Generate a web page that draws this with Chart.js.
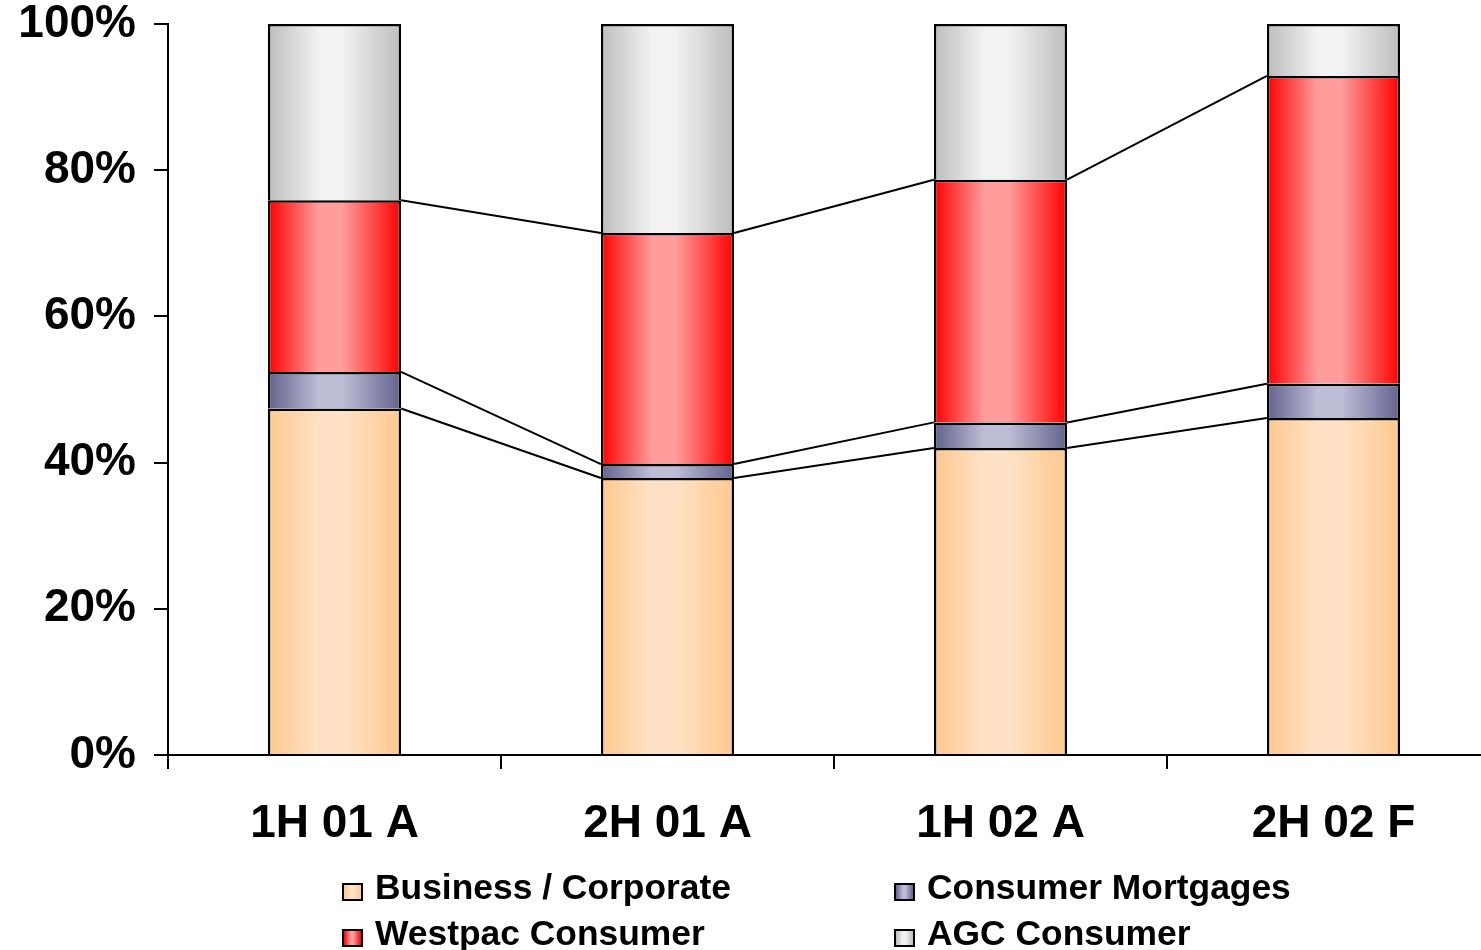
<!DOCTYPE html>
<html>
<head>
<meta charset="utf-8">
<script src="https://cdn.jsdelivr.net/npm/chart.js@4/dist/chart.umd.min.js"></script>
<style>
  html, body { margin: 0; padding: 0; background: #fff; overflow: hidden; }
  #wrap { position: relative; width: 1481px; height: 950px; overflow: hidden; }
  #chart { position: absolute; left: 0; top: 0; }
  .key {
    position: absolute;
    font: bold 35.4px "Liberation Sans", Arial, sans-serif;
    line-height: 35px;
    color: #000;
    white-space: nowrap;
  }
  .key i {
    position: absolute;
    left: -33px;
    top: 13px;
    width: 21px;
    height: 18px;
    box-sizing: border-box;
    border: 2px solid #000;
  }
</style>
</head>
<body>
<div id="wrap">
  <canvas id="chart" width="1500" height="950"></canvas>
  <div id="legend"></div>
</div>
<script>
var labels = ["1H 01 A", "2H 01 A", "1H 02 A", "2H 02 F"];
var yTicks = [0, 20, 40, 60, 80, 100];

var business = [47.4, 37.9, 42.0, 46.1];
var mortgages = [5.0, 1.9, 3.5, 4.7];
var westpac = [23.5, 31.6, 33.2, 42.1];
var agc = [24.1, 28.6, 21.3, 7.1];

// edge / centre colour for the cylinder-style fill
var shades = {
  business: ["#FFC88F", "#FFE2C6"],
  mortgages: ["#62628E", "#BDBDD6"],
  westpac: ["#FF0000", "#FF9C9C"],
  agc: ["#BDBDBD", "#F2F2F2"]
};

var font = '"Liberation Sans", Arial, sans-serif';
var barPct = 0.4;

function shade(pair) {
  return function (c) {
    var chart = c.chart,
      x = chart.scales.x;
    if (!x || !chart.chartArea) return pair[0];
    var half = ((x.width / labels.length) * barPct) / 2,
      mid = x.getPixelForValue(c.dataIndex),
      g = chart.ctx.createLinearGradient(mid - half, 0, mid + half, 0);
    g.addColorStop(0, pair[0]);
    g.addColorStop(0.38, pair[1]);
    g.addColorStop(0.56, pair[1]);
    g.addColorStop(1, pair[0]);
    return g;
  };
}

function cssShade(pair) {
  return "linear-gradient(to right, " + pair[0] + ", " + pair[1] + " 40%, " +
    pair[1] + " 55%, " + pair[0] + ")";
}

// thin connector lines between the tops of each stacked segment
var seriesLines = {
  id: "seriesLines",
  beforeDatasetsDraw: function (chart) {
    var ctx = chart.ctx;
    ctx.save();
    ctx.strokeStyle = "#000";
    ctx.lineWidth = 2;
    for (var d = 0; d < chart.data.datasets.length - 1; d++) {
      var bars = chart.getDatasetMeta(d).data;
      for (var i = 0; i < bars.length - 1; i++) {
        var a = bars[i],
          b = bars[i + 1];
        ctx.beginPath();
        ctx.moveTo(a.x + a.width / 2, a.y);
        ctx.lineTo(b.x - b.width / 2, b.y);
        ctx.stroke();
      }
    }
    ctx.restore();
  }
};

function series(label, data, pair) {
  return {
    label: label,
    data: data,
    backgroundColor: shade(pair),
    borderColor: "#000",
    borderWidth: 2.5,
    barPercentage: barPct,
    categoryPercentage: 1
  };
}

var datasets = [
  series("Business / Corporate", business, shades.business),
  series("Consumer Mortgages", mortgages, shades.mortgages),
  series("Westpac Consumer", westpac, shades.westpac),
  series("AGC Consumer", agc, shades.agc)
];

Chart.defaults.font.family = font;
Chart.defaults.color = "#000";

new Chart(document.getElementById("chart").getContext("2d"), {
  type: "bar",
  data: { labels: labels, datasets: datasets },
  plugins: [seriesLines],
  options: {
    responsive: false,
    animation: false,
    layout: { padding: { top: 24, left: 0, right: 0, bottom: 0 } },
    plugins: { legend: { display: false }, tooltip: { enabled: false } },
    scales: {
      x: {
        stacked: true,
        grid: { offset: true, drawOnChartArea: false, tickLength: 14, color: "#000", lineWidth: 2 },
        border: { color: "#000", width: 2 },
        ticks: {
          color: "#000",
          font: { size: 46, weight: "bold", lineHeight: 1 },
          padding: 32,
          maxRotation: 0
        },
        afterFit: function (s) {
          s.height = 195;
          s.paddingLeft = 0;
          s.paddingRight = 0;
        }
      },
      y: {
        stacked: true,
        min: 0,
        max: 100,
        grid: { drawOnChartArea: false, tickLength: 14, color: "#000", lineWidth: 2 },
        border: { color: "#000", width: 2 },
        ticks: {
          color: "#000",
          font: { size: 46, weight: "bold", lineHeight: 1 },
          padding: 18,
          callback: function (v) { return v + "%"; }
        },
        afterBuildTicks: function (s) {
          s.ticks = yTicks.map(function (v) { return { value: v }; });
        },
        afterFit: function (s) {
          s.width = 168;
          s.paddingTop = 0;
          s.paddingBottom = 0;
        }
      }
    }
  }
});

// two-column legend under the axis
var keyPos = [[375, 870], [927, 870], [375, 916], [927, 916]];
var keyPairs = [shades.business, shades.mortgages, shades.westpac, shades.agc];
var legend = document.getElementById("legend");
datasets.forEach(function (ds, k) {
  var el = document.createElement("div");
  el.className = "key";
  el.style.left = keyPos[k][0] + "px";
  el.style.top = keyPos[k][1] + "px";
  var box = document.createElement("i");
  box.style.background = cssShade(keyPairs[k]);
  el.appendChild(box);
  el.appendChild(document.createTextNode(ds.label));
  legend.appendChild(el);
});
</script>
</body>
</html>
